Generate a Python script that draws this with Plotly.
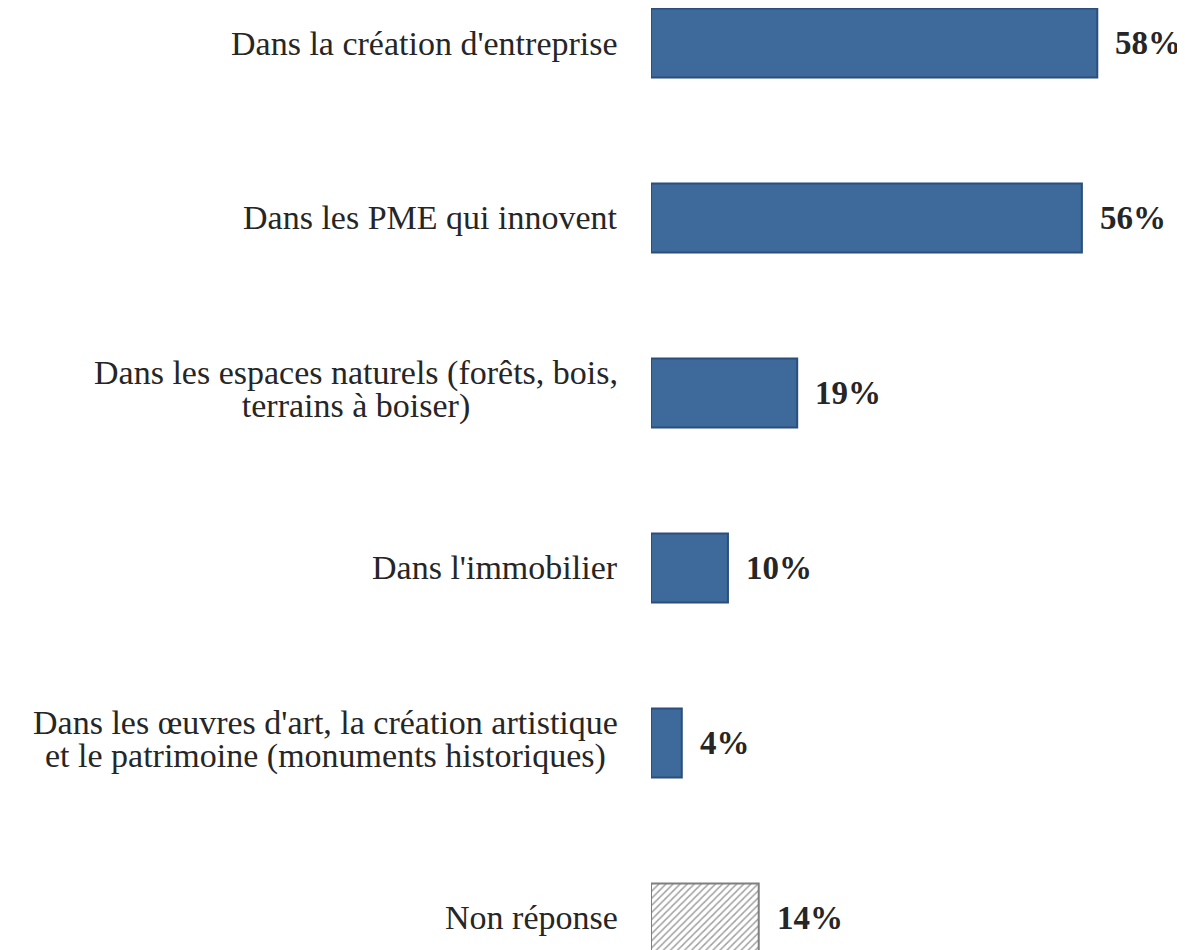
import plotly.graph_objects as go

categories = [
    "Dans la création d'entreprise",
    "Dans les PME qui innovent",
    "Dans les espaces naturels (forêts, bois,<br>terrains à boiser)",
    "Dans l'immobilier",
    "Dans les œuvres d'art, la création artistique<br>et le patrimoine (monuments historiques)",
    "Non réponse",
]
values = [58, 56, 19, 10, 4, 14]
value_labels = ["58%", "56%", "19%", "10%", "4%", "14%"]

blue = "#3E6A9B"
blue_edge = "#2A4F7C"
fill_colors = [blue] * 5 + ["white"]
edge_colors = [blue_edge] * 5 + ["#7F7F7F"]
pattern_shapes = [""] * 5 + ["/"]

fig = go.Figure()
fig.add_trace(go.Bar(
    x=values,
    y=categories,
    orientation="h",
    width=0.395,
    marker=dict(
        color=fill_colors,
        line=dict(color=edge_colors, width=2),
        pattern=dict(shape=pattern_shapes, fgcolor="#8C8C8C", bgcolor="white",
                     size=5, solidity=0.3),
    ),
    hoverinfo="skip",
))

serif = "Liberation Serif, Times New Roman, serif"
# base size sets the line spacing; inner span sets the glyph size
label_font = dict(family=serif, size=25, color="#262626")
value_font = dict(family=serif, size=33, color="#262626")

annotations = []
for cat, v, lab in zip(categories, values, value_labels):
    lines = cat.split("<br>")
    txt = "<br>".join('<span style="font-size:34px">' + ln + "</span>" for ln in lines)
    annotations.append(dict(
        x=0, xref="paper", y=cat, yref="y", text=txt, showarrow=False,
        xanchor="right", yanchor="middle", align="center", xshift=-31,
        yshift=3 if len(lines) > 1 else 0,
        font=label_font,
    ))
    annotations.append(dict(
        x=v, xref="x", y=cat, yref="y", text="<b>" + lab + "</b>", showarrow=False,
        xanchor="left", yanchor="middle", xshift=16, font=value_font,
    ))

fig.update_layout(
    width=1177, height=942,
    margin=dict(l=643, r=0, t=0, b=0),
    paper_bgcolor="white", plot_bgcolor="white",
    showlegend=False,
    xaxis=dict(range=[0, 69.4], visible=False, fixedrange=True),
    yaxis=dict(type="category", categoryorder="array", categoryarray=categories,
               range=[5.183, -0.2], visible=False, fixedrange=True),
    annotations=annotations,
)

fig.write_html("out.html")
